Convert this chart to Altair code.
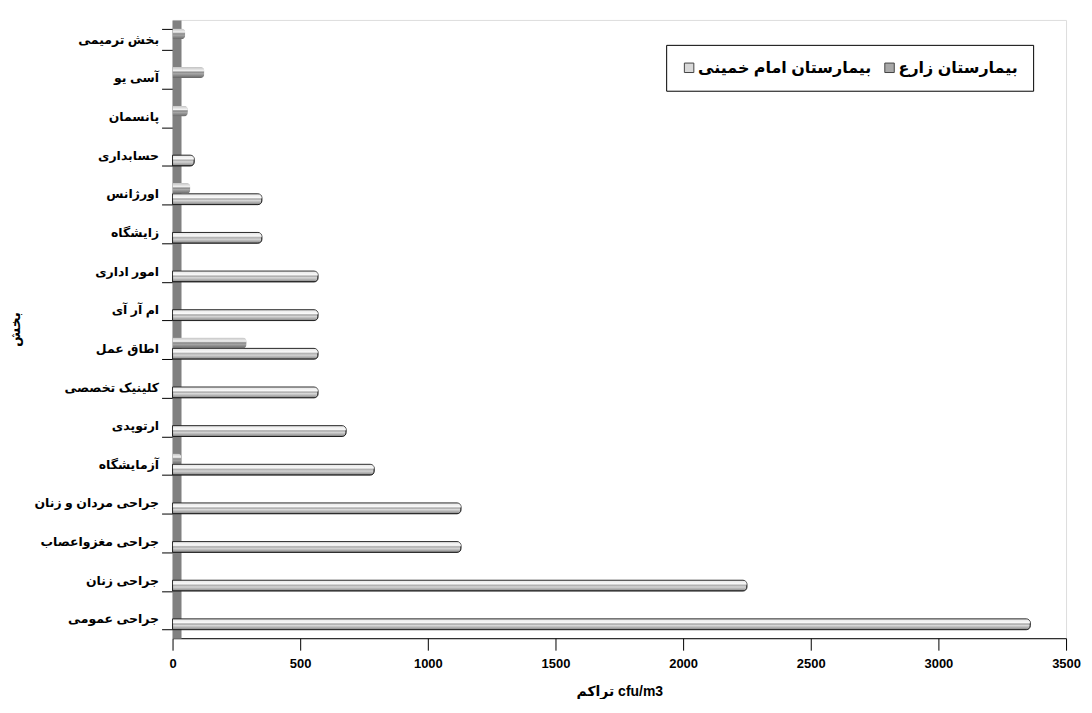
import altair as alt
import pandas as pd

categories = [
    "بخش ترمیمی", "آسی یو", "پانسمان", "حسابداری", "اورژانس", "زایشگاه",
    "امور اداری", "ام آر آی", "اطاق عمل", "کلینیک تخصصی", "ارتوپدی",
    "آزمایشگاه", "جراحی مردان و زنان", "جراحی مغزواعصاب", "جراحی زنان", "جراحی عمومی",
]
khomeini = [0, 0, 0, 85, 350, 350, 570, 570, 570, 570, 680, 790, 1130, 1130, 2250, 3360]
zarea = [50, 125, 60, 0, 70, 0, 0, 0, 290, 0, 0, 35, 0, 0, 0, 0]
series_names = ["بیمارستان امام خمینی", "بیمارستان زارع"]
x_ticks = [0, 500, 1000, 1500, 2000, 2500, 3000, 3500]

rows = []
for c, k, z in zip(categories, khomeini, zarea):
    rows.append({"cat": c, "series": series_names[0], "value": k})
    rows.append({"cat": c, "series": series_names[1], "value": z})
df = pd.DataFrame(rows)

FONT = "Liberation Sans, DejaVu Sans, Arial, sans-serif"

base = alt.Chart(df).transform_filter("datum.value > 0")

x = alt.X(
    "value:Q",
    scale=alt.Scale(domain=[0, 3500], nice=False),
    axis=alt.Axis(
        values=x_ticks, title="تراکم cfu/m3", grid=False, format="d",
        labelFont=FONT, labelFontSize=13, labelFontWeight="bold", labelColor="black",
        titleFont=FONT, titleFontSize=14, titleFontWeight="bold", titleColor="black",
        titlePadding=14, tickSize=12, tickColor="black", domainColor="black",
        labelPadding=7, labelFlush=False,
    ),
)
y = alt.Y(
    "cat:N", sort=categories,
    scale=alt.Scale(paddingInner=0.44, paddingOuter=0.22),
    axis=alt.Axis(
        title="بخش", tickBand="extent",
        labelFont=FONT, labelFontSize=12.5, labelFontWeight="bold", labelColor="black",
        titleFont=FONT, titleFontSize=14, titleFontWeight="bold", titleColor="black",
        titlePadding=11, tickSize=15, tickColor="black", offset=-4,
        domainColor="#808080", domainWidth=9, labelPadding=3, labelLimit=300,
    ),
)
yoff = alt.YOffset("series:N", sort=[series_names[1], series_names[0]])

bars = base.mark_bar(strokeWidth=1, cornerRadiusEnd=4).encode(
    x=x, y=y, yOffset=yoff,
    color=alt.Color(
        "series:N",
        scale=alt.Scale(domain=series_names, range=["#d9d9d9", "#a8a8a8"]),
        legend=alt.Legend(
            orient="none", legendX=495, legendY=25, direction="horizontal",
            title=None, strokeColor="black", fillColor="white", padding=15,
            labelFont=FONT, labelFontSize=16, labelFontWeight="bold", labelColor="black",
            symbolType="square", symbolSize=90, symbolStrokeColor="#444",
            symbolStrokeWidth=1, columnPadding=10, labelLimit=300, labelOffset=1,
        ),
    ),
    stroke=alt.condition(
        f"datum.series == '{series_names[1]}'", alt.value("transparent"), alt.value("#222")
    ),
)

shade = base.mark_bar(
    cornerRadiusEnd=4,
    fill=alt.Gradient(
        gradient="linear", x1=0, y1=0, x2=0, y2=1,
        stops=[
            alt.GradientStop(color="rgba(255,255,255,0.3)", offset=0),
            alt.GradientStop(color="rgba(255,255,255,0.85)", offset=0.35),
            alt.GradientStop(color="rgba(0,0,0,0.0)", offset=0.6),
            alt.GradientStop(color="rgba(0,0,0,0.4)", offset=1),
        ],
    ),
).encode(x=x, y=y, yOffset=yoff)

chart = (
    alt.layer(bars, shade)
    .properties(width=896, height=620, padding={"left": 0, "top": 5, "right": 3, "bottom": 0})
    .configure_view(stroke=None)
    .configure(background="white")
)

chart.save("out.html", embed_options={"renderer": "svg", "actions": False})
